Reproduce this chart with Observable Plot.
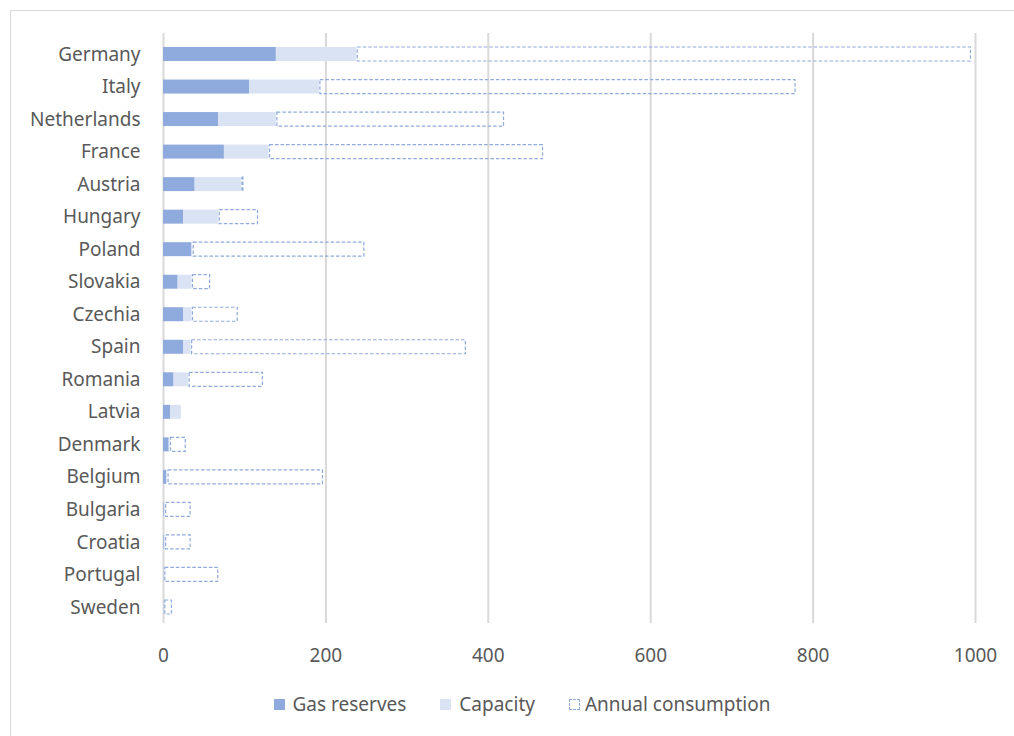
<!DOCTYPE html>
<html>
<head>
<meta charset="utf-8">
<script src="https://cdn.jsdelivr.net/npm/d3@7"></script>
<script src="https://cdn.jsdelivr.net/npm/@observablehq/plot@0.6"></script>
<style>
  html, body { margin: 0; padding: 0; background: #fff; }
  #frame { position: absolute; left: 10px; top: 10px; width: 1010px; height: 740px; border: 1px solid #d9d9d9; box-sizing: border-box; }
  #chart { position: absolute; left: 0; top: 0; }
  #legend { position: absolute; left: 0; top: 691px; width: 1044px; display: flex; justify-content: center; gap: 34px; font-family: "Noto Sans", sans-serif; font-size: 19px; color: #595959; }
  .item { display: flex; align-items: center; gap: 8px; }
  .sw { width: 11px; height: 11px; box-sizing: border-box; }
</style>
</head>
<body>
<div id="frame"></div>
<div id="chart"></div>
<div id="legend"></div>
<script>
const countries = ["Germany","Italy","Netherlands","France","Austria","Hungary","Poland","Slovakia","Czechia","Spain","Romania","Latvia","Denmark","Belgium","Bulgaria","Croatia","Portugal","Sweden"];
const gasReserves = [139, 106, 68, 75, 39, 25, 35, 18, 25, 25, 13, 9, 7, 4, 1, 1, 0.5, 0.5];
const capacity    = [99, 86, 71, 55, 57, 43, 1, 17, 10, 9, 18, 13, 1, 1, 1, 1, 0.5, 0.5];
const consumption = [757, 587, 281, 338, 3, 49, 212, 23, 57, 339, 92, 0, 20, 192, 32, 32, 67, 10];
const seriesNames = ["Gas reserves", "Capacity", "Annual consumption"];
const xTicks = [0, 200, 400, 600, 800, 1000];

const colReserves = "#8faadc";
const colCapacity = "#dae3f3";
const colConsumption = "#8faadc";

const fillRows = [];
const dashRows = [];
countries.forEach((c, i) => {
  const a = gasReserves[i], b = a + capacity[i], e = b + consumption[i];
  fillRows.push({country: c, series: seriesNames[0], x1: 0, x2: a});
  fillRows.push({country: c, series: seriesNames[1], x1: a, x2: b});
  if (consumption[i] > 0) dashRows.push({country: c, series: seriesNames[2], x1: b, x2: e});
});

const chart = Plot.plot({
  width: 1014,
  height: 680,
  marginLeft: 163,
  marginRight: 39,
  marginTop: 38,
  marginBottom: 57,
  style: { fontFamily: "'Noto Sans', sans-serif", fontSize: "19px", color: "#595959", background: "transparent" },
  x: { domain: [0, 1000], ticks: xTicks, tickSize: 0, tickPadding: 25, label: null, tickFormat: d => String(d) },
  y: { domain: countries, paddingInner: 0.57, paddingOuter: 0.277, round: false, tickSize: 0, tickPadding: 23, label: null },
  color: { domain: seriesNames, range: [colReserves, colCapacity, colConsumption] },
  marks: [
    Plot.ruleX(xTicks, { x: d => d, stroke: "#d9d9d9", strokeWidth: 2, insetTop: -5 }),
    Plot.barX(fillRows, { x1: "x1", x2: "x2", y: "country", fill: "series" }),
    Plot.barX(dashRows, { x1: "x1", x2: "x2", y: "country", fill: "none", stroke: colConsumption, strokeWidth: 1.2, strokeDasharray: "3.5,2", insetLeft: 1, insetRight: 0.5 })
  ]
});
document.getElementById("chart").appendChild(chart);

const legend = document.getElementById("legend");
const swStyles = [
  `background:${colReserves}`,
  `background:${colCapacity}`,
  `border:1.3px dashed ${colConsumption}`
];
seriesNames.forEach((name, i) => {
  const it = document.createElement("div");
  it.className = "item";
  if (i === 2) it.style.gap = "5px";
  it.innerHTML = `<span class="sw" style="${swStyles[i]}"></span><span>${name}</span>`;
  legend.appendChild(it);
});
</script>
</body>
</html>
